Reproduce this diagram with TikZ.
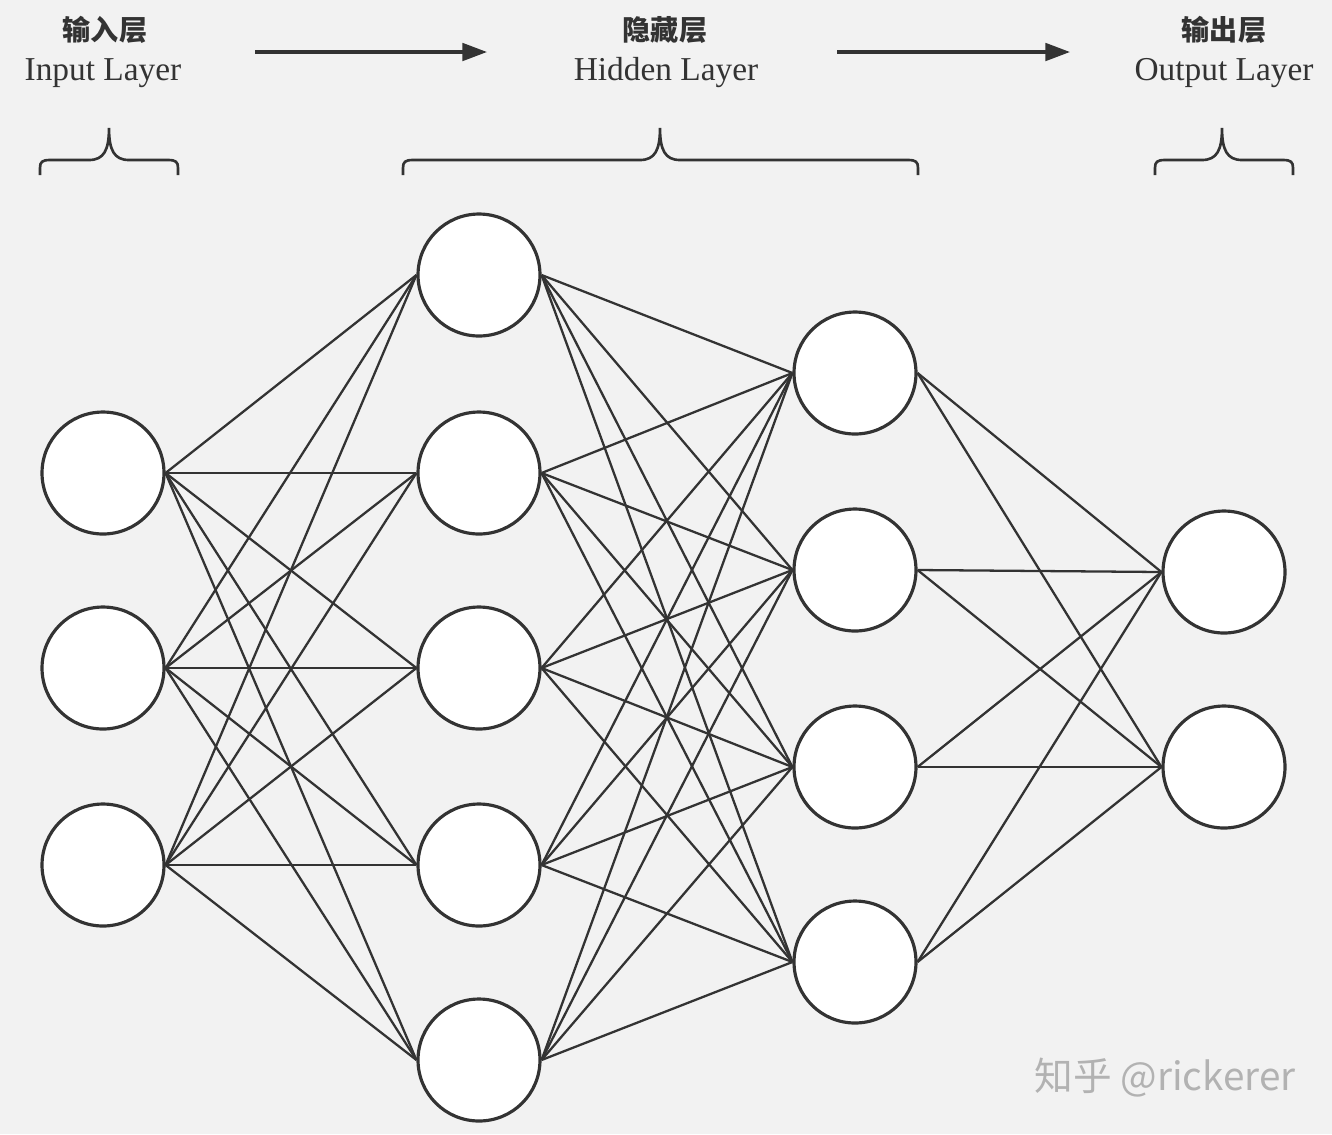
\documentclass[tikz,border=0pt]{standalone}
\usepackage{fontspec}
\setmainfont{Liberation Serif}
\newfontfamily\cjk{Noto Sans CJK SC}
\usetikzlibrary{arrows.meta}
\definecolor{bg}{HTML}{F2F2F2}
\definecolor{ln}{HTML}{333333}
\begin{document}
\begin{tikzpicture}[x=0.02cm,y=-0.02cm,
  neuron/.style={circle,draw=ln,line width=1.8pt,fill=white,minimum size=2.44cm,inner sep=0pt},
  wire/.style={draw=ln,line width=1.3pt},
  cn/.style={font=\cjk\bfseries\fontsize{16}{18}\selectfont,text=ln},
  en/.style={font=\fontsize{19}{22}\selectfont,text=ln},
  brace/.style={draw=ln,line width=1.5pt},
  flow/.style={draw=ln,line width=1.8pt,-{Triangle[length=14pt,width=10pt]}}]
\fill[bg] (0,0) rectangle (1332,1134);
\useasboundingbox (0,0) rectangle (1332,1134);
\foreach \i/\y in {1/473,2/668,3/865} \node[neuron] (a\i) at (103,\y) {};
\foreach \i/\y in {1/275,2/473,3/668,4/865,5/1060} \node[neuron] (b\i) at (479,\y) {};
\foreach \i/\y in {1/373,2/570,3/767,4/962} \node[neuron] (c\i) at (855,\y) {};
\foreach \i/\y in {1/572,2/767} \node[neuron] (d\i) at (1224,\y) {};
\foreach \i in {1,2,3} \foreach \j in {1,...,5} \draw[wire] (a\i.east) -- (b\j.west);
\foreach \i in {1,...,5} \foreach \j in {1,...,4} \draw[wire] (b\i.east) -- (c\j.west);
\foreach \i in {1,...,4} \foreach \j in {1,2} \draw[wire] (c\i.east) -- (d\j.west);
\node[cn] (t1) at (105,30) {输入层};
\node[en] (e1) at (103,73) {Input Layer};
\node[cn] (t2) at (665,30) {隐藏层};
\node[en] (e2) at (666,73) {Hidden Layer};
\node[cn] (t3) at (1224,30) {输出层};
\node[en] (e3) at (1224,73) {Output Layer};
\coordinate (f1s) at (255,52); \coordinate (f1e) at (487,52);
\coordinate (f2s) at (837,52); \coordinate (f2e) at (1070,52);
\draw[flow] (f1s) -- (f1e);
\draw[flow] (f2s) -- (f2e);
\foreach \l/\m/\r in {40/109/178, 403/660/918, 1155/1222/1293}{
  \draw[brace] (\l,175) -- (\l,168) .. controls (\l,162) and (\l+2,160) .. (\l+10,160)
    -- (\m-20,160) .. controls (\m-5,160) and (\m,150) .. (\m,128)
    .. controls (\m,150) and (\m+5,160) .. (\m+20,160)
    -- (\r-10,160) .. controls (\r-2,160) and (\r,162) .. (\r,168) -- (\r,175);
}
\node[font=\cjk\fontsize{22}{24}\selectfont,text=gray!60] (wm) at (1165,1078) {知乎 @rickerer};
\end{tikzpicture}
\end{document}
